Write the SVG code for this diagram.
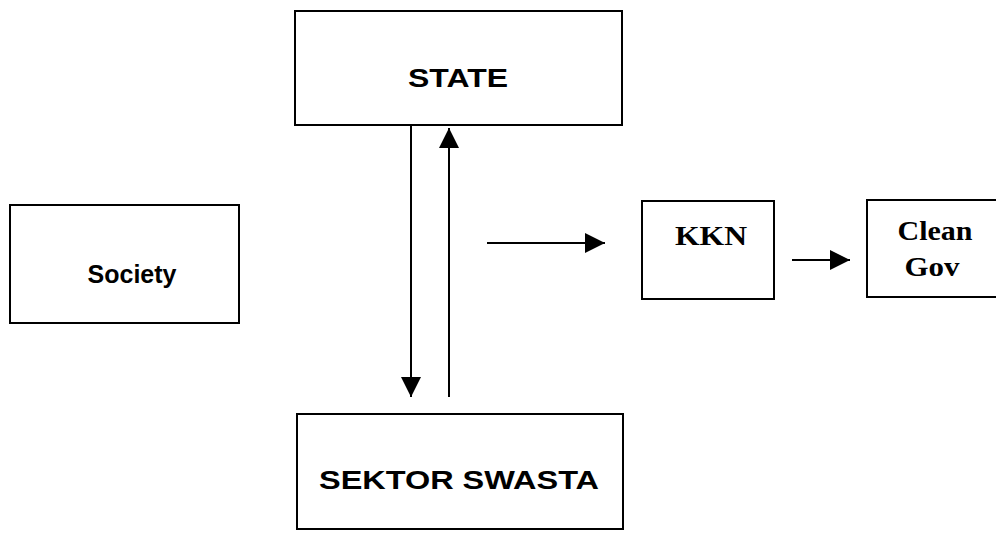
<svg xmlns="http://www.w3.org/2000/svg" width="996" height="533" viewBox="0 0 996 533">
<defs>
<style>
.box{fill:#fff;stroke:#000;stroke-width:2}
.sans{font-family:"Liberation Sans",Arial,sans-serif;font-weight:bold;font-size:26px;text-anchor:middle;fill:#000}
.serif{font-family:"Liberation Serif","Times New Roman",serif;font-weight:bold;font-size:28px;text-anchor:middle;fill:#000}
.conn{stroke:#000;stroke-width:2;fill:none}
</style>
<marker id="ahl" viewBox="0 0 10 10" refX="10" refY="5" markerWidth="20" markerHeight="22" markerUnits="userSpaceOnUse" orient="auto">
<path d="M0,0 L10,5 L0,10 Z" fill="#000"/>
</marker>
</defs>
<g id="state"><rect class="box" x="295" y="11" width="327" height="114"/><text class="sans" x="458" y="87" textLength="100" lengthAdjust="spacingAndGlyphs">STATE</text></g>
<g id="society"><rect class="box" x="10" y="205" width="229" height="118"/><text class="sans" x="132" y="283" textLength="89" lengthAdjust="spacingAndGlyphs">Society</text></g>
<g id="sektor"><rect class="box" x="297" y="414" width="326" height="115"/><text class="sans" x="459" y="489" textLength="280" lengthAdjust="spacingAndGlyphs">SEKTOR SWASTA</text></g>
<g id="kkn"><rect class="box" x="642" y="201" width="132" height="98"/><text class="serif" x="711" y="245" textLength="72" lengthAdjust="spacingAndGlyphs">KKN</text></g>
<g id="cleangov"><rect class="box" x="867" y="200" width="140" height="97"/><text class="serif" x="935" y="240" textLength="75" lengthAdjust="spacingAndGlyphs">Clean</text><text class="serif" x="932" y="276" textLength="55" lengthAdjust="spacingAndGlyphs">Gov</text></g>
<g id="connectors">
<line class="conn" x1="411" y1="125" x2="411" y2="397" marker-end="url(#ahl)"/>
<line class="conn" x1="449" y1="397" x2="449" y2="128" marker-end="url(#ahl)"/>
<line class="conn" x1="487" y1="243" x2="605" y2="243" marker-end="url(#ahl)"/>
<line class="conn" x1="792" y1="260" x2="850" y2="260" marker-end="url(#ahl)"/>
</g>
</svg>
